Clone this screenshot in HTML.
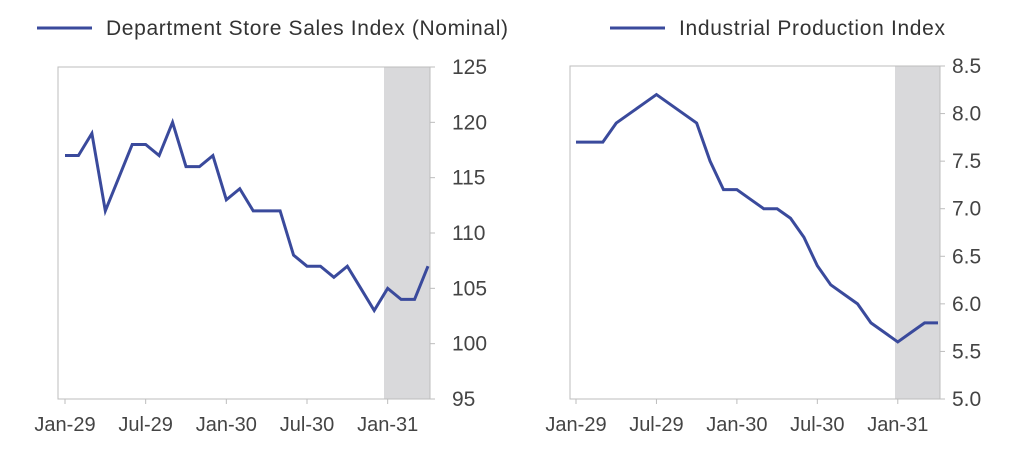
<!DOCTYPE html>
<html><head><meta charset="utf-8"><style>
body{margin:0;background:#fff;}
svg{display:block;font-family:"Liberation Sans",sans-serif;}
</style></head><body>
<svg id="c" width="1021" height="462"></svg>
<script>
const months=["Jan-29","Feb-29","Mar-29","Apr-29","May-29","Jun-29","Jul-29","Aug-29","Sep-29","Oct-29","Nov-29","Dec-29","Jan-30","Feb-30","Mar-30","Apr-30","May-30","Jun-30","Jul-30","Aug-30","Sep-30","Oct-30","Nov-30","Dec-30","Jan-31","Feb-31","Mar-31","Apr-31"];
const salesValues=[117,117,119,112,115,118,118,117,120,116,116,117,113,114,112,112,112,108,107,107,106,107,105,103,105,104,104,107];
const ipValues=[7.7,7.7,7.7,7.9,8.0,8.1,8.2,8.1,8.0,7.9,7.5,7.2,7.2,7.1,7.0,7.0,6.9,6.7,6.4,6.2,6.1,6.0,5.8,5.7,5.6,5.7,5.8,5.8];
const salesTicks=[95,100,105,110,115,120,125];
const ipTicks=[5.0,5.5,6.0,6.5,7.0,7.5,8.0,8.5];
const xTickIdx=[0,6,12,18,24];
const shadeStart=24;
const svg=document.getElementById('c');
const NS='http://www.w3.org/2000/svg';
function mk(tag,attrs,parent){const e=document.createElementNS(NS,tag);for(const k in attrs)e.setAttribute(k,attrs[k]);(parent||svg).appendChild(e);return e;}
function panel(o){
  const g=mk('g',{});
  
  
  const x=i=>o.x0+(o.xl-o.x0)*i/27;
  const y=v=>o.yb+(o.yt-o.yb)*(v-o.min)/(o.max-o.min);
  const sh=mk('rect',{x:o.sx,y:o.yt,width:o.fr-o.sx,height:o.yb-o.yt,fill:'#d9d9db'},g);
  
  
  const fr=mk('rect',{x:o.fl,y:o.yt,width:o.fr-o.fl,height:o.yb-o.yt,fill:'none',stroke:'#bdbdbd','stroke-width':1},g);
  
  
  o.ticks.forEach(t=>{
    const tl=mk('line',{x1:o.fr,x2:o.fr+5,y1:y(t),y2:y(t),stroke:'#bdbdbd'},g);
    
    
    const tx=mk('text',{x:o.fr+o.lo,y:y(t)+7,'font-size':21,fill:'#444'},g);
    tx.textContent=o.fmt(t);
    
    
  });
  xTickIdx.forEach(i=>{
    const tl=mk('line',{x1:x(i),x2:x(i),y1:o.yb,y2:o.yb+5,stroke:'#bdbdbd'},g);
    
    
    const tx=mk('text',{x:x(i),y:o.yb+32,'font-size':20,fill:'#444','text-anchor':'middle'},g);
    tx.textContent=months[i];
    
    
  });
  const pl=mk('polyline',{points:o.vals.map((v,i)=>x(i)+','+y(v)).join(' '),fill:'none',stroke:'#3a4a9c','stroke-width':3,'stroke-linejoin':'miter'},g);
  
  
  const ll=mk('line',{x1:o.lx,x2:o.lx+55,y1:28,y2:28,stroke:'#3a4a9c','stroke-width':3},g);
  
  
  const lt=mk('text',{x:o.lx+69,y:35,'font-size':21,fill:'#333',textLength:o.tl,lengthAdjust:'spacing'},g);
  lt.textContent=o.label;
  
  
}
panel({name:'sales-panel',x0:65,xl:428,sx:384,fl:58,fr:430,yt:67,yb:399,min:95,max:125,ticks:salesTicks,vals:salesValues,fmt:t=>String(t),lx:37,lo:22,tl:402,label:'Department Store Sales Index (Nominal)'});
panel({name:'production-panel',x0:576,xl:938,sx:895,fl:570,fr:940,yt:66,yb:399,min:5,max:8.5,ticks:ipTicks,vals:ipValues,fmt:t=>t.toFixed(1),lx:610,lo:12,tl:266,label:'Industrial Production Index'});
</script>
</body></html>
